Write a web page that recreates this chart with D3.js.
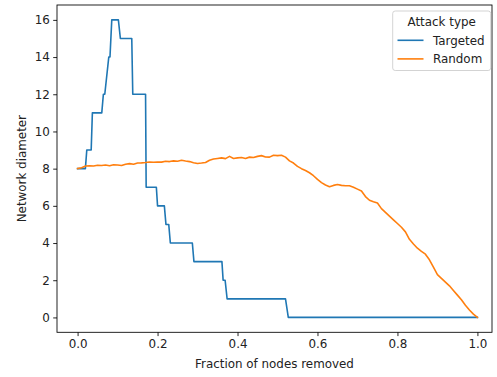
<!DOCTYPE html>
<html>
<head>
<meta charset="utf-8">
<script src="https://cdn.jsdelivr.net/npm/d3@7"></script>
<style>
  html, body { margin: 0; padding: 0; background: #fff; }
  svg { display: block; font-family: "DejaVu Sans", sans-serif; }
</style>
</head>
<body>
<svg id="chart" width="497" height="377"></svg>
<script>
// ---- data ----
const seriesNames = ["Targeted", "Random"];
const legendTitle = "Attack type";
const xLabel = "Fraction of nodes removed";
const yLabel = "Network diameter";
const xTicks = [0.0, 0.2, 0.4, 0.6, 0.8, 1.0];
const yTicks = [0, 2, 4, 6, 8, 10, 12, 14, 16];

// Targeted attack: step-like curve (fraction removed, diameter)
const targetedX = [0, 0.0195, 0.023, 0.034, 0.037, 0.0605, 0.0645, 0.068, 0.078, 0.081, 0.0855, 0.102, 0.107, 0.1355, 0.138, 0.170, 0.1715,
                   0.197, 0.2, 0.217, 0.221, 0.228, 0.232, 0.287, 0.291, 0.361, 0.364, 0.369, 0.374, 0.52, 0.527, 1.0];
const targetedY = [8, 8, 9, 9, 11, 11, 12, 12, 14, 14, 16, 16, 15, 15, 12, 12, 7,
                   7, 6, 6, 5, 5, 4, 4, 3, 3, 2, 2, 1, 1, 0, 0];

// Random attack
const randomX = [0.00,0.01,0.02,0.03,0.04,0.05,0.06,0.07,0.08,0.09,
                 0.10,0.11,0.12,0.13,0.14,0.15,0.16,0.17,0.18,0.19,
                 0.20,0.21,0.22,0.23,0.24,0.25,0.26,0.27,0.28,0.29,
                 0.30,0.31,0.32,0.33,0.34,0.35,0.36,0.37,0.38,0.39,
                 0.40,0.41,0.42,0.43,0.44,0.45,0.46,0.47,0.48,0.49,
                 0.50,0.51,0.52,0.53,0.54,0.55,0.56,0.57,0.58,0.59,
                 0.60,0.61,0.62,0.63,0.64,0.65,0.66,0.67,0.68,0.69,
                 0.70,0.71,0.72,0.73,0.74,0.75,0.76,0.77,0.78,0.79,
                 0.80,0.81,0.82,0.83,0.84,0.85,0.86,0.87,0.88,0.89,
                 0.90,0.91,0.92,0.93,0.94,0.95,0.96,0.97,0.98,0.99,1.00];
const randomY = [8.00,8.05,8.14,8.15,8.14,8.18,8.17,8.20,8.16,8.21,
                 8.20,8.17,8.24,8.27,8.24,8.30,8.31,8.33,8.36,8.34,
                 8.36,8.35,8.40,8.38,8.42,8.40,8.45,8.41,8.38,8.32,
                 8.28,8.30,8.33,8.45,8.52,8.55,8.58,8.54,8.66,8.55,
                 8.58,8.60,8.55,8.62,8.60,8.66,8.70,8.63,8.62,8.72,
                 8.70,8.72,8.62,8.42,8.30,8.12,8.00,7.90,7.78,7.62,
                 7.42,7.25,7.12,7.03,7.10,7.15,7.10,7.08,7.08,7.00,
                 6.90,6.80,6.50,6.30,6.22,6.15,5.85,5.65,5.45,5.25,
                 5.05,4.85,4.60,4.20,3.95,3.72,3.55,3.40,3.10,2.70,
                 2.30,2.10,1.90,1.70,1.45,1.20,0.95,0.65,0.40,0.18,0.00];

// ---- layout ----
const colors = ["#1f77b4", "#ff7f0e"];
const fontSize = 11.9;
const svg = d3.select("#chart");
const L = 57, R = 492, T = 5, B = 332.3;

const x = d3.scaleLinear().domain([-0.0515, 1.0365]).range([L, R]);
const y = d3.scaleLinear().domain([-0.8, 16.8]).range([B, T]);

// lines
const line = d3.line().x(d => x(d[0])).y(d => y(d[1]));
const targeted = targetedX.map((v, i) => [v, targetedY[i]]);
const random = randomX.map((v, i) => [v, randomY[i]]);

svg.append("clipPath").attr("id", "clip")
  .append("rect").attr("x", L).attr("y", T).attr("width", R - L).attr("height", B - T);

const plot = svg.append("g").attr("clip-path", "url(#clip)");
[targeted, random].forEach((data, i) => {
  plot.append("path").datum(data)
    .attr("d", line)
    .attr("fill", "none")
    .attr("stroke", colors[i])
    .attr("stroke-width", 1.6)
    .attr("stroke-linejoin", "round")
    .attr("stroke-linecap", "square");
});

// axes
const xAxis = d3.axisBottom(x).tickValues(xTicks).tickFormat(d3.format(".1f"))
  .tickSize(3.8).tickPadding(3.4);
const yAxis = d3.axisLeft(y).tickValues(yTicks).tickFormat(d3.format("d"))
  .tickSize(3.8).tickPadding(3.4);

const gx = svg.append("g").attr("transform", `translate(0,${B})`).call(xAxis);
const gy = svg.append("g").attr("transform", `translate(${L},0)`).call(yAxis);
[gx, gy].forEach(g => {
  g.select(".domain").remove();
  g.selectAll(".tick line").attr("stroke", "#000").attr("stroke-width", 0.86);
  g.selectAll(".tick text").attr("fill", "#222").style("font-size", fontSize + "px")
    .style("font-family", "DejaVu Sans");
});

// frame (spines)
svg.append("rect").attr("x", L).attr("y", T).attr("width", R - L).attr("height", B - T)
  .attr("fill", "none").attr("stroke", "#000").attr("stroke-width", 0.86);

// labels
svg.append("text").attr("x", (L + R) / 2).attr("y", 368)
  .attr("text-anchor", "middle").attr("fill", "#222")
  .style("font-size", fontSize + "px").text(xLabel);
svg.append("text")
  .attr("transform", `translate(26,${(T + B) / 2}) rotate(-90)`)
  .attr("text-anchor", "middle").attr("fill", "#222")
  .style("font-size", fontSize + "px").text(yLabel);

// legend
const lg = svg.append("g");
lg.append("rect").attr("x", 392.7).attr("y", 11).attr("width", 98).attr("height", 59.5)
  .attr("rx", 2.5).attr("fill", "#fff").attr("fill-opacity", 0.8)
  .attr("stroke", "#cccccc").attr("stroke-width", 0.86);
lg.append("text").attr("x", 441.7).attr("y", 25.5).attr("text-anchor", "middle")
  .attr("fill", "#222").style("font-size", fontSize + "px").text(legendTitle);
seriesNames.forEach((name, i) => {
  const yy = 40.3 + i * 18.6;
  lg.append("line").attr("x1", 397.5).attr("x2", 423.5).attr("y1", yy).attr("y2", yy)
    .attr("stroke", colors[i]).attr("stroke-width", 1.6);
  lg.append("text").attr("x", 433).attr("y", yy + 4.2)
    .attr("fill", "#222").style("font-size", fontSize + "px").text(name);
});
</script>
</body>
</html>
